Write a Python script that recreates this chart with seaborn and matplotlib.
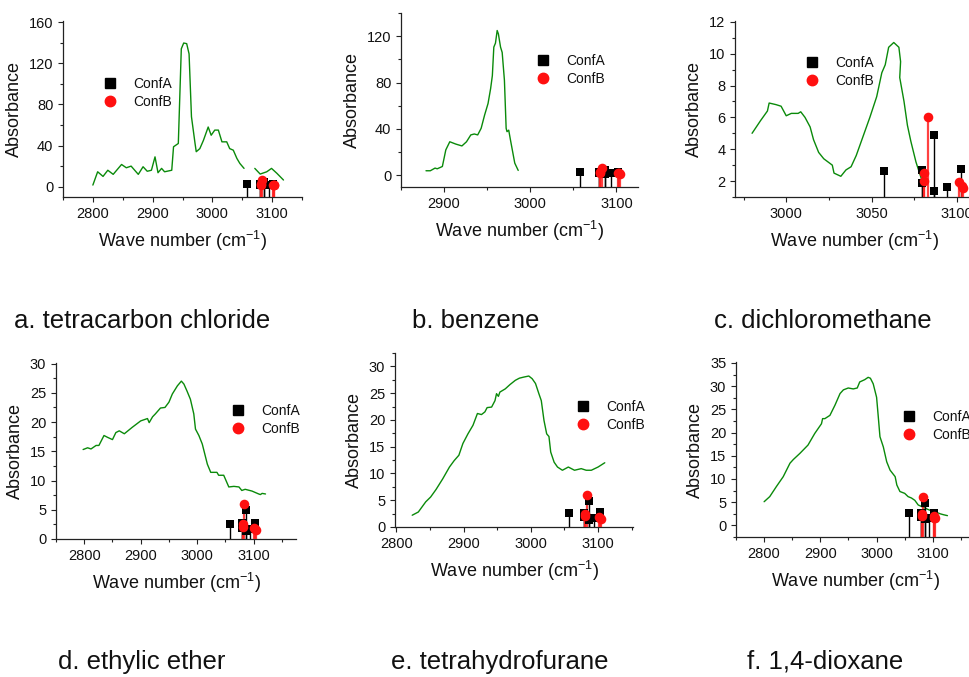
import pandas as pd
import seaborn as sns
from matplotlib import pyplot as plt
from matplotlib.lines import Line2D
from matplotlib.ticker import MultipleLocator

# calculated C-H stretching lines (same set on every panel)
conf_a_x = [3057.5, 3079.5, 3079.5, 3086.7, 3086.7, 3094.0, 3102.3]
conf_a_y = [2.65, 2.7, 1.85, 4.9, 1.4, 1.65, 2.73]
conf_b_x = [3080.8, 3080.8, 3083.0, 3101.3, 3102.7, 3103.7]
conf_b_y = [2.5, 2.0, 6.04, 1.92, 1.7, 1.55]

# measured spectra, one list of segments per solvent
ccl4_x = [[2800, 2808, 2817, 2825, 2834, 2848, 2856, 2864, 2876, 2884, 2891, 2898,
           2904, 2909, 2915, 2920, 2932, 2935, 2943, 2948, 2952, 2957, 2961, 2965,
           2971, 2973, 2979, 2985, 2993, 2998, 3004, 3010, 3016, 3024, 3029, 3035,
           3041, 3046, 3053],
          [3071, 3080, 3091, 3099, 3108, 3119]]
ccl4_y = [[1.6, 14.5, 10, 16, 12, 21.6, 18.4, 20, 12, 19.4, 15, 16,
           29, 13.6, 17.8, 14.5, 16, 38.8, 42, 134, 139.6, 139, 129, 68,
           42, 34, 37, 45, 58, 50, 55, 55, 43.6, 43.6, 37, 35.5,
           27.5, 22.6, 17.8],
          [17.8, 12.3, 14.5, 17.8, 13, 6.5]]

benzene_x = [[2879, 2884, 2889.5, 2892, 2896, 2898, 2902, 2906.6, 2913.6, 2920.7,
              2926, 2931, 2935, 2939, 2943, 2947, 2951, 2954, 2956, 2957.7, 2959.6,
              2961.6, 2963, 2965.5, 2967.4, 2970, 2972, 2973, 2975, 2977, 2980,
              2982, 2986]]
benzene_y = [[4, 4, 6.3, 5.7, 7, 7.7, 22, 29, 27, 25.4,
              29, 34.9, 35.7, 34.9, 40.6, 52, 62, 74.9, 86, 110.6, 114,
              124.9, 122, 110.6, 106, 82, 40.6, 37.7, 39, 30.6, 18.6,
              10.6, 4.3]]

dcm_x = [[2980, 2985, 2989, 2990, 2994, 2997, 3000, 3003, 3007, 3008.5, 3011,
          3014, 3016, 3019, 3022, 3027, 3028, 3032, 3035, 3038, 3041, 3045, 3049,
          3053, 3056, 3058, 3060, 3063, 3066, 3067, 3066.5, 3069, 3071, 3073,
          3076, 3079, 3081]]
dcm_y = [[5.0, 5.8, 6.4, 6.9, 6.8, 6.7, 6.1, 6.25, 6.25, 6.35, 6.0,
          5.4, 4.6, 3.8, 3.4, 3.0, 2.5, 2.3, 2.7, 2.9, 3.6, 4.8, 6.0,
          7.3, 8.8, 9.3, 10.4, 10.7, 10.4, 9.5, 8.5, 7.0, 5.5, 4.5,
          3.2, 2.2, 1.6]]

ether_x = [[2798, 2806, 2812, 2821, 2826, 2835, 2841, 2850, 2856, 2862, 2871, 2885,
            2900, 2912, 2915, 2921, 2926, 2935, 2943, 2950, 2956, 2965, 2972,
            2976.5, 2982, 2988, 2994, 2997, 3003, 3009, 3018, 3024, 3035, 3038,
            3047, 3056, 3065, 3074, 3079, 3085, 3097, 3109, 3112, 3115, 3121]]
ether_y = [[15.3, 15.6, 15.4, 16, 16, 17.7, 17.4, 17, 18.2, 18.5, 18, 19.1,
            20.2, 20.6, 19.9, 20.9, 21.4, 22.4, 22.5, 23.4, 24.8, 26.2, 27,
            26.5, 25.3, 23.9, 21.4, 18.8, 17.7, 16.25, 12.8, 11.4, 11.4, 10.9,
            10.9, 8.9, 9.0, 8.9, 8.3, 8.5, 8.2, 7.7, 7.6, 7.8, 7.7]]

thf_x = [[2823.6, 2832.7, 2843.7, 2851, 2859, 2869, 2879, 2886, 2893, 2899, 2906.5,
          2914, 2920.6, 2926.6, 2931.7, 2935, 2941.7, 2946.7, 2949, 2951.8, 2954,
          2962, 2969, 2977, 2983, 2989.5, 2997, 3002, 3007, 3012, 3015.6, 3019.6,
          3023.6, 3027, 3029.6, 3034.7, 3039.7, 3047, 3055.8, 3065, 3075, 3082.4,
          3090, 3100, 3110]]
thf_y = [[2.2, 2.8, 4.7, 5.6, 7.0, 9.0, 11.2, 12.4, 13.4, 15.6, 17.4,
          19, 21.2, 21.0, 21.5, 22.3, 22.4, 23.6, 24.9, 24.4, 25.2,
          25.8, 26.6, 27.4, 27.8, 28.0, 28.2, 27.7, 26.8, 24.9, 23.6, 19.9,
          17.4, 16.9, 14, 12.1, 11.2, 10.6, 11.2, 10.6, 10.9, 10.6,
          10.6, 11.2, 12.0]]

dioxane_x = [[2800, 2810, 2822, 2834, 2846, 2852, 2863.5, 2878, 2890, 2902, 2904,
              2908, 2917, 2926, 2935, 2941, 2949.6, 2958.5, 2965.6, 2970, 2979,
              2985, 2989, 2994, 3000, 3003, 3006, 3012, 3018, 3024, 3033, 3036,
              3041.5, 3050, 3056, 3062, 3068, 3074, 3083, 3092, 3101, 3107, 3113,
              3119, 3126]]
dioxane_y = [[5.1, 6.2, 8.4, 10.5, 13.4, 14.2, 15.5, 17.3, 19.8, 21.9, 23,
              23, 23.7, 25.9, 28.4, 29.2, 29.6, 29.4, 29.6, 30.9, 31.4,
              31.9, 31.7, 30.5, 27.6, 23.4, 19.1, 16.9, 13.7, 11.9, 10.5, 8.7,
              7.3, 6.9, 6.2, 5.9, 5.4, 4.4, 3.9, 3.4, 3.0, 2.8, 2.5,
              2.3, 2.1]]

captions = ["a. tetracarbon chloride", "b. benzene", "c. dichloromethane",
            "d. ethylic ether", "e. tetrahydrofurane", "f. 1,4-dioxane"]

W, H = 970, 677

# (spectrum x, spectrum y, axes box px [l, r, top, bottom], xlim, ylim,
#  x major/minor, y major/minor, legend marker px, caption px)
panels = [
    (ccl4_x, ccl4_y, (63, 302, 21, 197), (2750, 3150), (-10, 161), (100, 50), (40, 20), (110, 93), (142, 321)),
    (benzene_x, benzene_y, (401, 638, 13, 187), (2850, 3125), (-10, 140), (100, 50), (40, 20), (543, 70), (476, 321)),
    (dcm_x, dcm_y, (735, 974, 21, 197), (2970, 3110), (1, 12.05), (50, 25), (2, 1), (812, 72), (823, 321)),
    (ether_x, ether_y, (56, 296, 363, 539), (2750, 3175), (0, 30.1), (100, 50), (5, 2.5), (238, 420), (142, 662)),
    (thf_x, thf_y, (395, 633, 353, 527), (2798, 3152), (0, 32.5), (100, 50), (5, 2.5), (583, 416), (500, 662)),
    (dioxane_x, dioxane_y, (736, 975, 362, 537), (2750, 3175), (-2.5, 35.2), (100, 50), (5, 2.5), (909, 426), (825, 662)),
]

sns.set_style("ticks")
plt.rcParams["font.family"] = ["Liberation Sans", "DejaVu Sans"]
plt.rcParams["mathtext.fontset"] = "custom"
plt.rcParams["mathtext.rm"] = "Liberation Sans"
plt.rcParams["mathtext.it"] = "Liberation Sans:italic"
plt.rcParams["text.color"] = "#111111"
plt.rcParams["axes.labelcolor"] = "#111111"
plt.rcParams["xtick.labelcolor"] = "#111111"
plt.rcParams["ytick.labelcolor"] = "#111111"

fig = plt.figure(figsize=(W / 100, H / 100), dpi=100)

for (sx, sy, box, xlim, ylim, xt, yt, leg, cap), caption in zip(panels, captions):
    l, r, t, b = box
    ax = fig.add_axes([l / W, 1 - b / H, (r - l) / W, (b - t) / H])

    segs = []
    for i, (xs, ys) in enumerate(zip(sx, sy)):
        segs.append(pd.DataFrame({"x": xs, "y": ys, "seg": i}))
    spec = pd.concat(segs)
    sns.lineplot(data=spec, x="x", y="y", units="seg", estimator=None, sort=False,
                 color="#0a8a0a", lw=1.0, ax=ax, legend=False)

    base = ylim[0]
    ax.vlines(conf_a_x, base, conf_a_y, color="black", lw=1.0, zorder=3)
    ax.vlines(conf_b_x, base, conf_b_y, color="#ff2020", lw=1.6, alpha=0.85, zorder=3)
    sns.scatterplot(x=conf_a_x, y=conf_a_y, marker="s", s=38, color="black",
                    edgecolor="black", linewidth=0, ax=ax, zorder=4)
    sns.scatterplot(x=conf_b_x, y=conf_b_y, marker="o", s=48, color="#ff1010",
                    edgecolor="#ff1010", linewidth=0, ax=ax, zorder=5)

    ax.set_xlim(*xlim)
    ax.set_ylim(*ylim)
    ax.xaxis.set_major_locator(MultipleLocator(xt[0]))
    ax.xaxis.set_minor_locator(MultipleLocator(xt[1]))
    ax.yaxis.set_major_locator(MultipleLocator(yt[0]))
    ax.yaxis.set_minor_locator(MultipleLocator(yt[1]))
    ax.tick_params(which="major", direction="out", length=3.5, width=0.8,
                   labelsize=10.5, color="#222222")
    ax.tick_params(which="minor", direction="out", length=2, width=0.8, color="#222222")
    sns.despine(ax=ax)
    for side in ("left", "bottom"):
        ax.spines[side].set_linewidth(0.9)
        ax.spines[side].set_color("#222222")

    ax.set_xlabel("Wave number (cm$^{\\mathrm{-1}}$)", fontsize=13, labelpad=6)
    ax.set_ylabel("Absorbance", fontsize=13, labelpad=4)

    handles = [Line2D([], [], marker="s", ls="none", color="black", markersize=6.5),
               Line2D([], [], marker="o", ls="none", color="#ff1010", markersize=7.5)]
    ax.legend(handles, ["ConfA", "ConfB"], loc="center left", frameon=False,
              bbox_to_anchor=((leg[0] - 7) / W, 1 - leg[1] / H),
              bbox_transform=fig.transFigure, borderpad=0, borderaxespad=0,
              handlelength=1.0, handletextpad=1.2, labelspacing=0.25, fontsize=10)

    fig.text(cap[0] / W, 1 - cap[1] / H, caption, ha="center", va="center", fontsize=18.5)

fig.savefig("out.png", dpi=100)
